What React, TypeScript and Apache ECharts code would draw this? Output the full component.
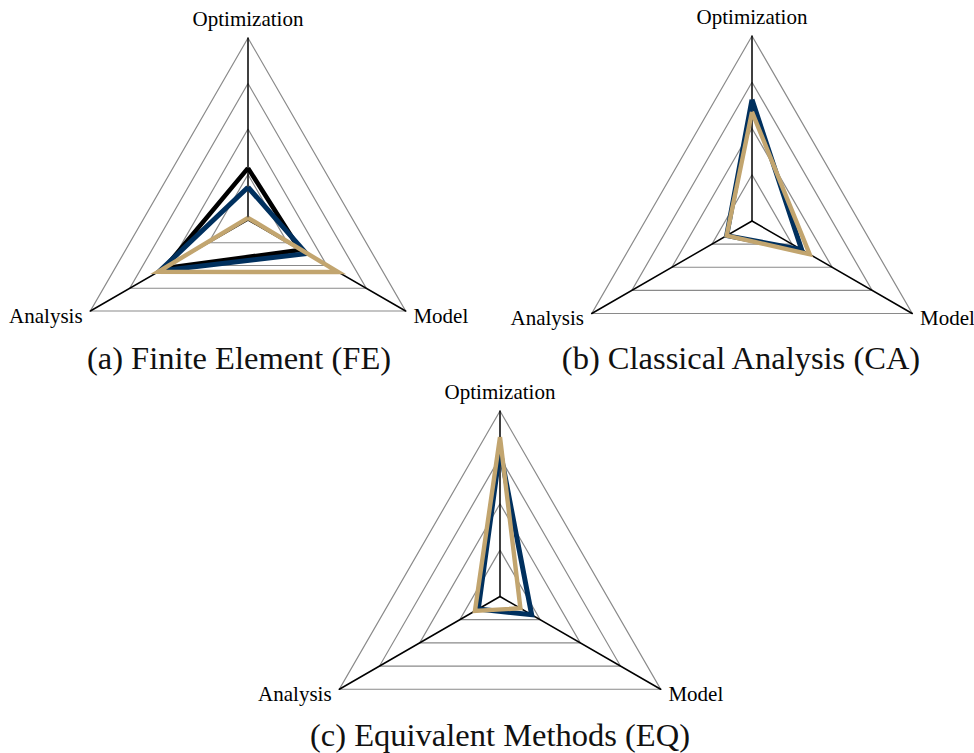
import React, { useEffect, useRef } from "react";
import * as echarts from "echarts";

const indicatorNames = ["Optimization", "Analysis", "Model"];
const ringSplits = 4;
const axisMax = 1;

// values in order: Optimization, Analysis, Model
const feBlack = [0.285, 0.53, 0.33];
const feNavy = [0.18, 0.56, 0.37];
const feGold = [0.012, 0.57, 0.572];

const caNavy = [0.656, 0.158, 0.31];
const caGold = [0.59, 0.158, 0.36];

const eqNavy = [0.79, 0.135, 0.197];
const eqGold = [0.86, 0.156, 0.127];

const captions = [
  "(a) Finite Element (FE)",
  "(b) Classical Analysis (CA)",
  "(c) Equivalent Methods (EQ)",
];

const BLACK = "#000000";
const NAVY = "#00305E";
const GOLD = "#C2A56F";

export default function App() {
  const ref = useRef<HTMLDivElement>(null);
  useEffect(() => {
    if (!ref.current) return;
    const chart = echarts.init(ref.current, null, { renderer: "svg" });
    const mkRadar = (center: number[], radius: number) => ({
      center,
      radius,
      shape: "polygon",
      startAngle: 90,
      splitNumber: ringSplits,
      axisNameGap: 9,
      axisName: {
        color: "#000",
        fontFamily: "Liberation Serif",
        fontSize: 21,
      },
      indicator: indicatorNames.map((n) => ({ name: n, min: 0, max: axisMax })),
      splitLine: { lineStyle: { color: "#8a8a8a", width: 1.2 } },
      splitArea: { show: false },
      axisLine: { lineStyle: { color: "#000", width: 1.5 } },
      axisTick: { show: false },
      axisLabel: { show: false },
    });
    const mkSeries = (radarIndex: number, name: string, values: number[], color: string, width: number) => ({
      type: "radar",
      radarIndex,
      name,
      symbol: "none",
      silent: true,
      lineStyle: { color, width, join: "miter" },
      itemStyle: { color },
      data: [{ value: values, name }],
    });
    const capStyle = {
      font: "32.5px 'Liberation Serif', serif",
      fill: "#111",
      textAlign: "center",
      textVerticalAlign: "middle",
    };
    chart.setOption({
      animation: false,
      backgroundColor: "#ffffff",
      radar: [
        mkRadar([248, 220], 182),
        mkRadar([752, 221], 185),
        mkRadar([500, 596.5], 185.5),
      ],
      series: [
        mkSeries(0, "Black", feBlack, BLACK, 4.6),
        mkSeries(0, "Navy", feNavy, NAVY, 5),
        mkSeries(0, "Gold", feGold, GOLD, 4.4),
        mkSeries(1, "Navy", caNavy, NAVY, 5),
        mkSeries(1, "Gold", caGold, GOLD, 4.4),
        mkSeries(2, "Navy", eqNavy, NAVY, 5),
        mkSeries(2, "Gold", eqGold, GOLD, 4.4),
      ],
      graphic: [
        { type: "text", x: 239, y: 358, style: { ...capStyle, text: captions[0] } },
        { type: "text", x: 741, y: 358, style: { ...capStyle, text: captions[1] } },
        { type: "text", x: 500, y: 735, style: { ...capStyle, text: captions[2] } },
      ],
    });
    return () => chart.dispose();
  }, []);
  return (
    <div
      ref={ref}
      style={{ position: "absolute", left: 0, top: 0, width: 974, height: 753 }}
    />
  );
}
